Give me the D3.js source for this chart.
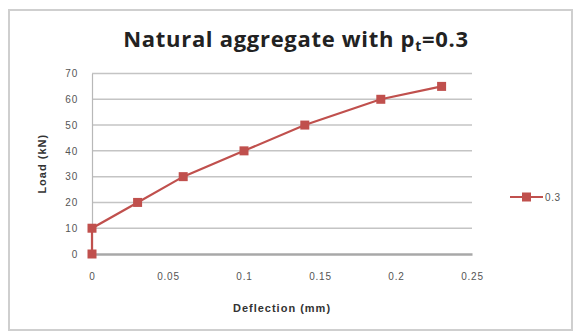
<!DOCTYPE html>
<html>
<head>
<meta charset="utf-8">
<script src="https://cdn.jsdelivr.net/npm/d3@7"></script>
<style>
  body { margin: 0; background: #fff; }
  svg { display: block; }
</style>
</head>
<body>
<div id="chart"></div>
<script>
// values
var deflection = [0, 0, 0.03, 0.06, 0.1, 0.14, 0.19, 0.23];
var load = [0, 10, 20, 30, 40, 50, 60, 65];
var xTicks = [0, 0.05, 0.1, 0.15, 0.2, 0.25];
var yTicks = [0, 10, 20, 30, 40, 50, 60, 70];
var seriesName = "0.3";

var width = 574, height = 332;
var red = "#c0504d";

var svg = d3.select('#chart')
    .append('svg')
    .attr('width', width)
    .attr('height', height)

// outer frame
svg.append('rect')
    .attr('x', 9).attr('y', 10)
    .attr('width', 563).attr('height', 320)
    .attr('fill', '#fff')
    .attr('stroke', '#cfcfcf')
    .attr('stroke-width', 2)

var scaleX = d3.scaleLinear().domain([0, 0.25]).range([92, 472])
var scaleY = d3.scaleLinear().domain([0, 70]).range([254, 73.5])

// gridlines
svg.append('g')
    .selectAll('line')
    .data(yTicks.filter(function(d) { return d > 0 }))
    .enter()
    .append('line')
    .attr('x1', scaleX(0)).attr('x2', scaleX(0.25))
    .attr('y1', function(d) { return scaleY(d) })
    .attr('y2', function(d) { return scaleY(d) })
    .attr('stroke', '#c4c4c4')
    .attr('stroke-width', 1.5)

// y axis
var yAxisG = svg.append('g')
    .attr('transform', 'translate(' + scaleX(0) + ',0)')
    .call(d3.axisLeft(scaleY).tickValues(yTicks).tickSize(0).tickPadding(14))
yAxisG.select('.domain').attr('stroke', '#b8b8b8').attr('stroke-width', 1.2)

// x axis
var xAxisG = svg.append('g')
    .attr('transform', 'translate(0,' + scaleY(0) + ')')
    .call(d3.axisBottom(scaleX).tickValues(xTicks).tickSize(0).tickPadding(19)
        .tickFormat(function(d) { return d3.format('')(d) }))
xAxisG.select('.domain').attr('stroke', '#a8a8a8').attr('stroke-width', 2.5)

svg.selectAll('.tick text')
    .attr('fill', '#555')
    .style('font-family', 'Liberation Sans, Arial, sans-serif')
    .style('font-size', '10px')
    .style('letter-spacing', '0.8px')

// series line + markers
var pts = deflection.map(function(d, i) { return { x: d, y: load[i] } })

svg.append('path')
    .datum(pts)
    .attr('fill', 'none')
    .attr('stroke', red)
    .attr('stroke-width', 2.2)
    .attr('d', d3.line()
        .x(function(d) { return scaleX(d.x) })
        .y(function(d) { return scaleY(d.y) }))

svg.append('g')
    .selectAll('rect')
    .data(pts)
    .enter()
    .append('rect')
    .attr('x', function(d) { return scaleX(d.x) - 4.5 })
    .attr('y', function(d) { return scaleY(d.y) - 4.5 })
    .attr('width', 9).attr('height', 9)
    .attr('fill', red)

// title
var title = svg.append('text')
    .attr('x', 296).attr('y', 47)
    .attr('text-anchor', 'middle')
    .style('font-family', 'Open Sans, Liberation Sans, sans-serif')
    .style('font-weight', 'bold')
    .style('font-size', '22px')
    .style('letter-spacing', '0.7px')
    .attr('fill', '#222')
title.append('tspan').text('Natural aggregate with p')
title.append('tspan').attr('dy', 4).style('font-size', '14px').text('t')
title.append('tspan').attr('dy', -4).text('=0.3')

// axis titles
svg.append('text')
    .attr('transform', 'translate(46,' + scaleY(35) + ') rotate(-90)')
    .attr('text-anchor', 'middle')
    .style('font-family', 'Liberation Sans, Arial, sans-serif')
    .style('font-weight', 'bold')
    .style('font-size', '11px')
    .style('letter-spacing', '1px')
    .attr('fill', '#333')
    .text('Load (kN)')

svg.append('text')
    .attr('x', 282).attr('y', 312)
    .attr('text-anchor', 'middle')
    .style('font-family', 'Liberation Sans, Arial, sans-serif')
    .style('font-weight', 'bold')
    .style('font-size', '11px')
    .style('letter-spacing', '1px')
    .attr('fill', '#333')
    .text('Deflection (mm)')

// legend
var legendG = svg.append('g').attr('transform', 'translate(510,197)')
legendG.append('line')
    .attr('x1', 0).attr('x2', 33)
    .attr('stroke', red).attr('stroke-width', 2.2)
legendG.append('rect')
    .attr('x', 12).attr('y', -4.5).attr('width', 9).attr('height', 9)
    .attr('fill', red)
legendG.append('text')
    .attr('x', 35).attr('y', 3.5)
    .style('font-family', 'Liberation Sans, Arial, sans-serif')
    .style('font-size', '10px')
    .style('letter-spacing', '0.6px')
    .attr('fill', '#555')
    .text(seriesName)
</script>
</body>
</html>
